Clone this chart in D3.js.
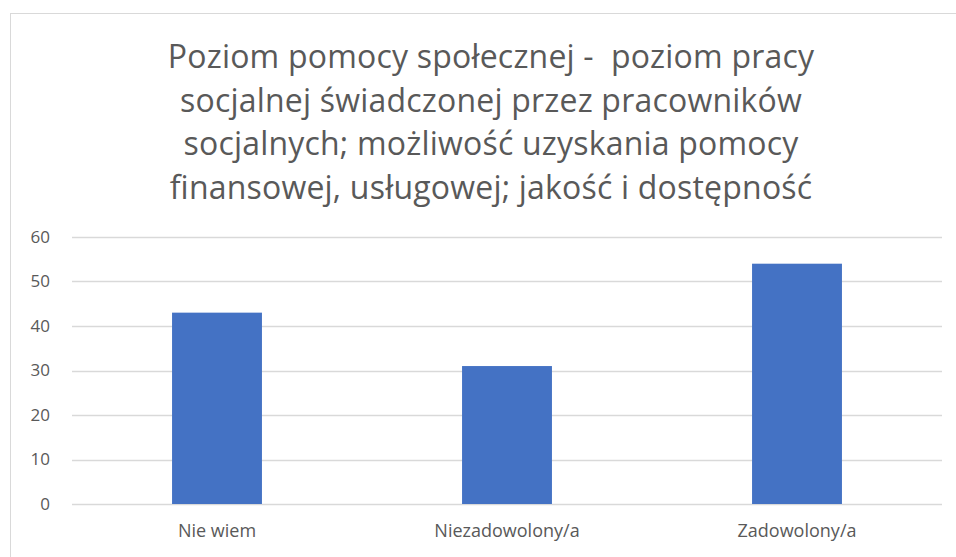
<!DOCTYPE html>
<html>
<head>
<meta charset="utf-8">
<script src="https://cdn.jsdelivr.net/npm/d3@7"></script>
<style>
  body { margin: 0; background: #fff; }
  svg { display: block; font-family: "Open Sans", sans-serif; }
</style>
</head>
<body>
<div class="chart"></div>
<script>
const categories = ["Nie wiem", "Niezadowolony/a", "Zadowolony/a"];
const values = [43, 31, 54];
const yTicks = [0, 10, 20, 30, 40, 50, 60];
const titleLines = [
	"Poziom pomocy społecznej -  poziom pracy",
	"socjalnej świadczonej przez pracowników",
	"socjalnych; możliwość uzyskania pomocy",
	"finansowej, usługowej; jakość i dostępność"
];

const W = 956, H = 557;
const margin = { top: 237, right: 14, bottom: 53, left: 72 };
const width = W - margin.left - margin.right,
	height = H - margin.top - margin.bottom;

const svg = d3.select(".chart")
	.append("svg")
	.attr("width", W)
	.attr("height", H);

// chart border
svg.append("rect")
	.attr("x", 10.5).attr("y", 13.5)
	.attr("width", 970).attr("height", 600)
	.attr("fill", "none")
	.attr("stroke", "#d9d9d9");

// title
svg.append("g")
	.selectAll("text")
	.data(titleLines)
	.enter()
	.append("text")
	.attr("x", 491)
	.attr("y", (d, i) => 68 + i * 43.7)
	.attr("text-anchor", "middle")
	.attr("fill", "#595959")
	.style("font-size", "32px")
	.style("letter-spacing", "0.2px")
	.style("white-space", "pre")
	.text((d) => d);

const g = svg.append("g")
	.attr("transform", "translate(" + margin.left + "," + margin.top + ")");

const x = d3.scaleBand()
	.domain(categories)
	.range([0, width])
	.paddingInner(0.69)
	.paddingOuter(0.345);

const y = d3.scaleLinear()
	.domain([0, 60])
	.range([height, 0]);

// gridlines
g.append("g")
	.selectAll("line")
	.data(yTicks)
	.enter()
	.append("line")
	.attr("x1", 0).attr("x2", width)
	.attr("y1", (d) => Math.round(y(d)) + 0.5)
	.attr("y2", (d) => Math.round(y(d)) + 0.5)
	.attr("stroke", "#d9d9d9")
	.attr("stroke-width", 1.3);

// y axis labels
const yAxis = g.append("g")
	.attr("transform", "translate(-22,0)")
	.call(d3.axisLeft(y).tickValues(yTicks).tickSize(0).tickPadding(0));
yAxis.select(".domain").remove();
yAxis.selectAll("text")
	.attr("fill", "#595959")
	.style("font-family", "Open Sans, sans-serif")
	.style("font-size", "17px");

// bars
g.selectAll("rect.bar")
	.data(values)
	.enter()
	.append("rect")
	.attr("class", "bar")
	.attr("x", (d, i) => x(categories[i]))
	.attr("y", (d) => y(d))
	.attr("width", x.bandwidth())
	.attr("height", (d) => height - y(d))
	.attr("fill", "#4472c4");

// x axis labels
const xAxis = g.append("g")
	.attr("transform", "translate(0," + height + ")")
	.call(d3.axisBottom(x).tickSize(0).tickPadding(20));
xAxis.select(".domain").remove();
xAxis.selectAll("text")
	.attr("fill", "#595959")
	.style("font-family", "Open Sans, sans-serif")
	.style("font-size", "18px");
</script>
</body>
</html>
